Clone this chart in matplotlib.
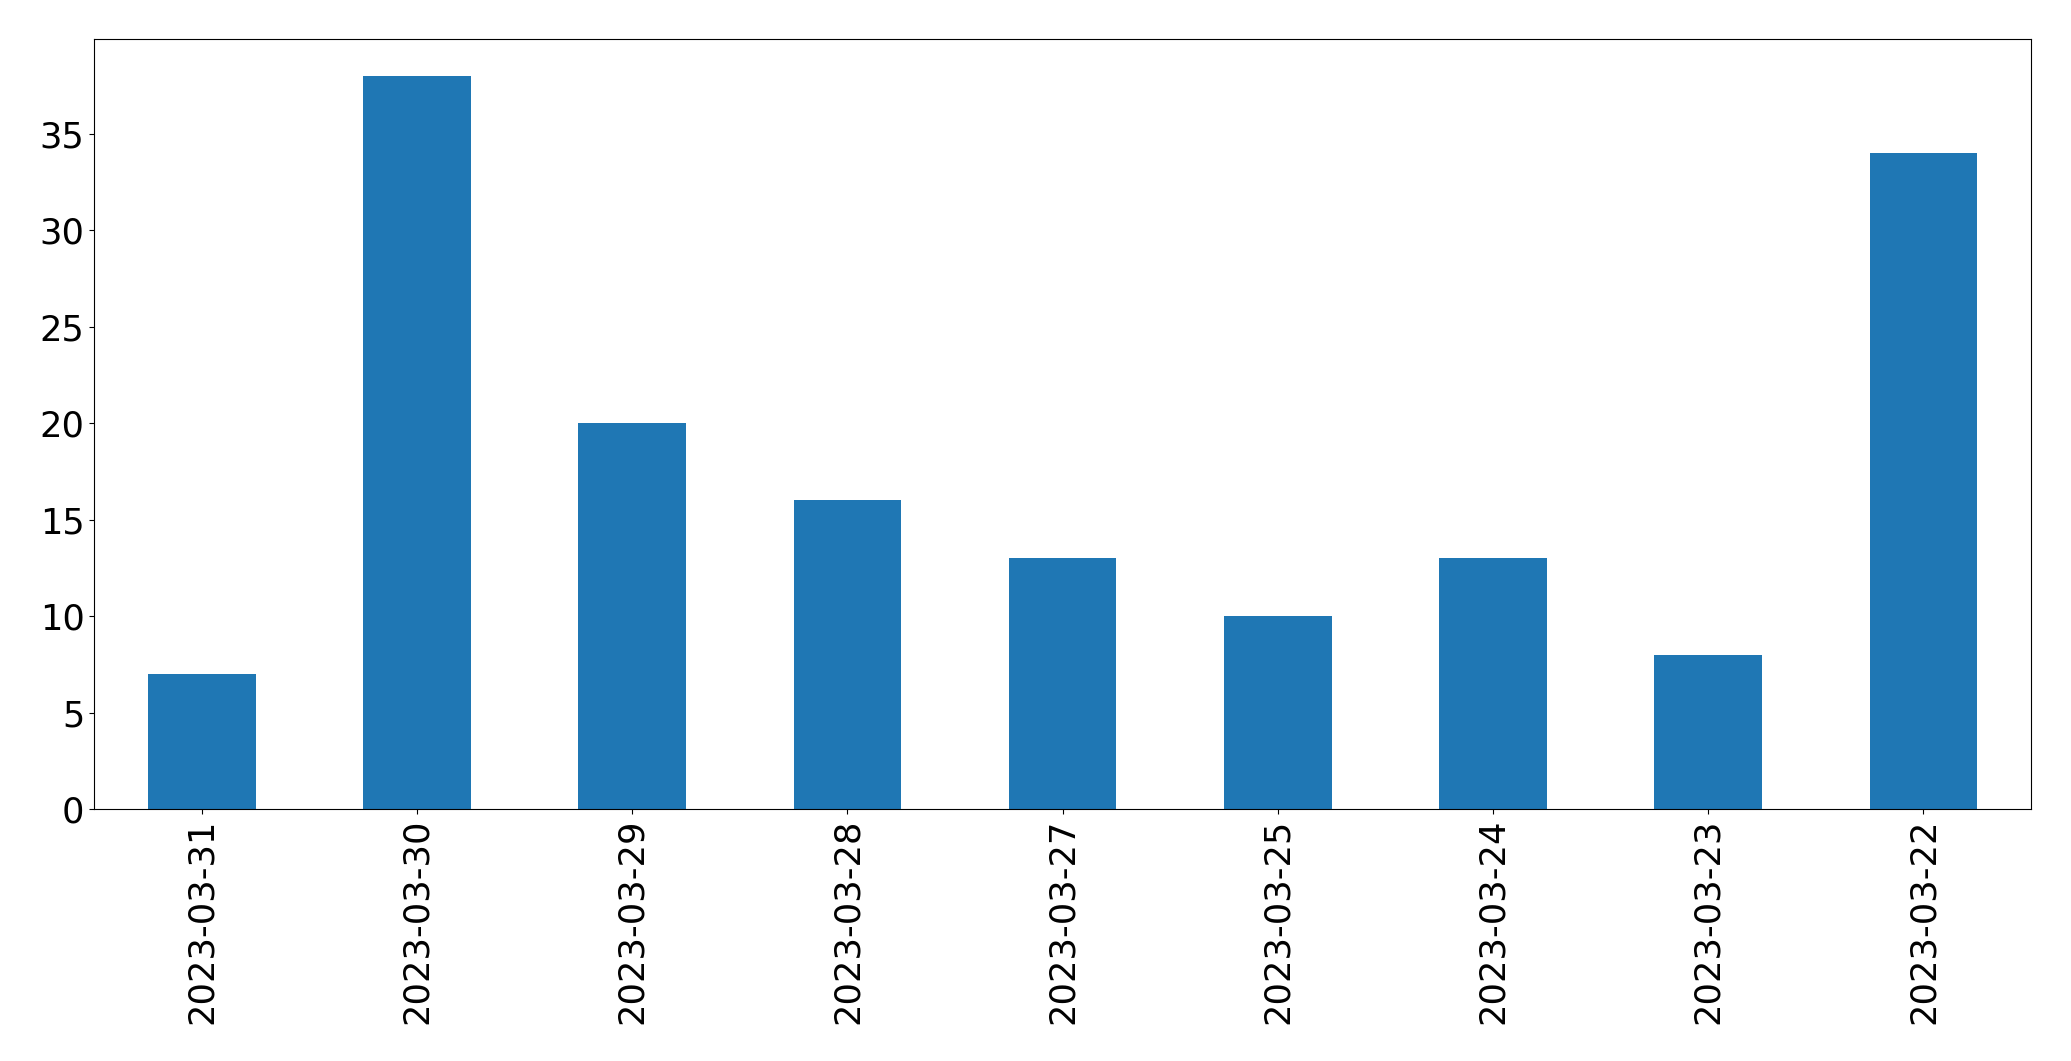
import matplotlib
matplotlib.use("Agg")
import matplotlib.pyplot as plt
import pandas as pd

dates = ["2023-03-31", "2023-03-30", "2023-03-29", "2023-03-28", "2023-03-27",
         "2023-03-25", "2023-03-24", "2023-03-23", "2023-03-22"]
counts = [7, 38, 20, 16, 13, 10, 13, 8, 34]

fig = plt.figure(figsize=(20.71, 10.61), dpi=100)
ax = fig.add_axes([0.0455, 0.2375, 0.9807 - 0.0455, 0.963 - 0.2375])
s = pd.Series(counts, index=dates)
s.plot.bar(ax=ax, color="#1f77b4", width=0.5)
ax.tick_params(axis="both", labelsize=25.4)
fig.savefig("out.png", dpi=100)
